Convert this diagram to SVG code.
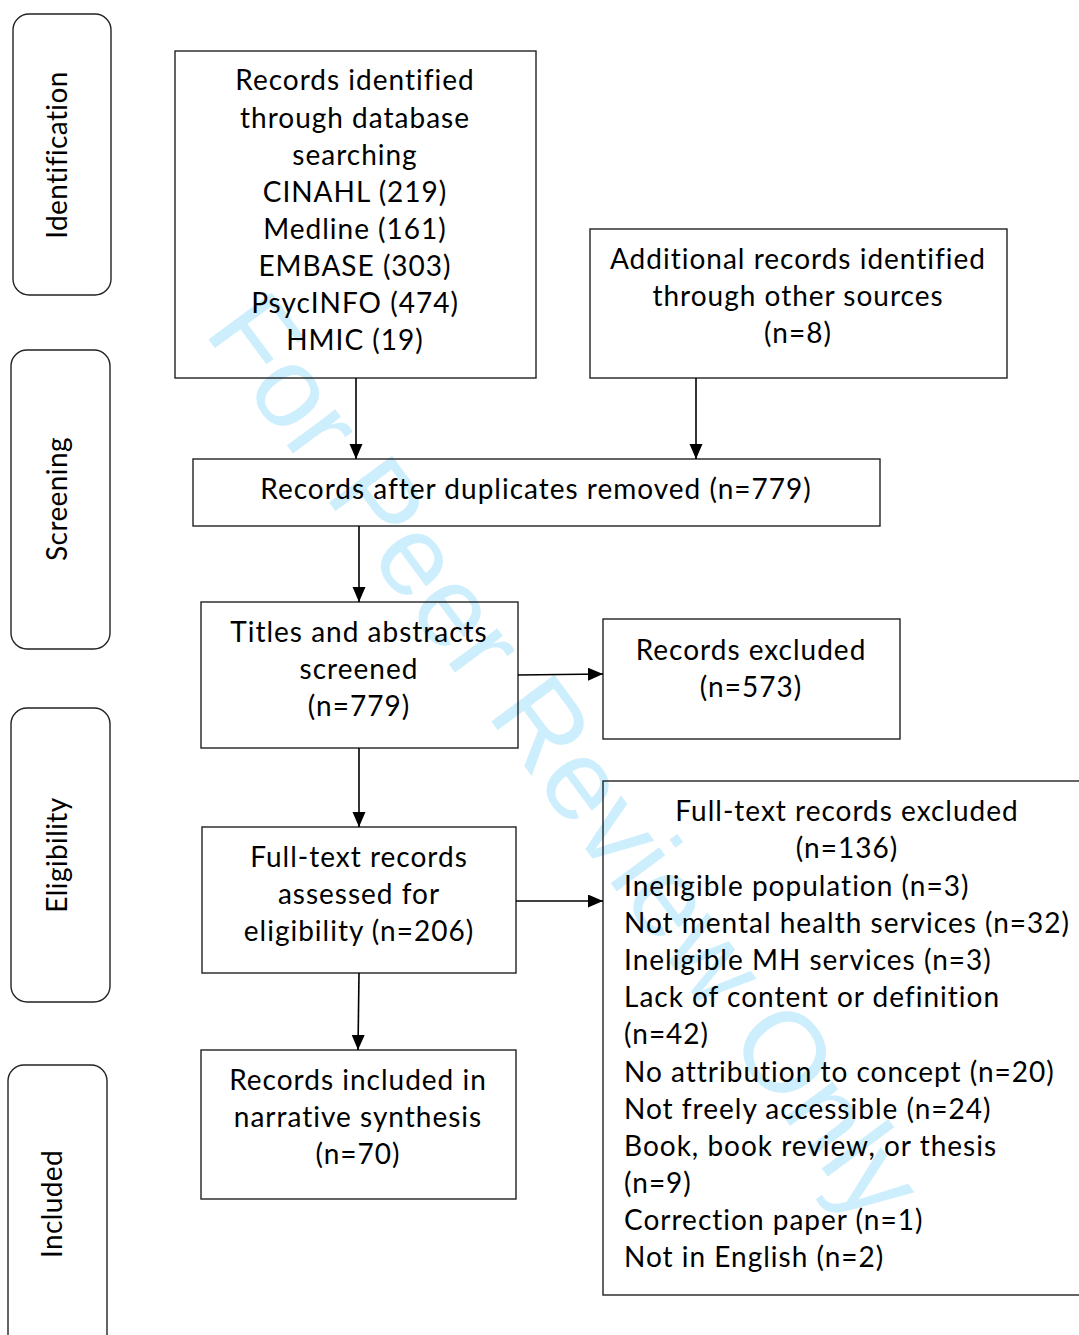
<svg xmlns="http://www.w3.org/2000/svg" width="1079" height="1335" viewBox="0 0 1079 1335">
  <style>
    .box { fill: none; stroke: #222; stroke-width: 1.4; }
    .stage { fill: none; stroke: #222; stroke-width: 1.4; }
    .t { font-family: Lato, "Open Sans", "Liberation Sans", sans-serif; font-size: 28px; letter-spacing: 1px; fill: #000; }
    .c { text-anchor: middle; }
    .stg { font-family: Lato, "Open Sans", "Liberation Sans", sans-serif; font-size: 28px; letter-spacing: 0.4px; fill: #000; text-anchor: middle; }
    .wm { font-family: "Liberation Sans", Arial, sans-serif; font-size: 114px; fill: #cdeefc; }
    .conn { stroke: #000; stroke-width: 1.6; fill: none; }
  </style>
  <defs>
    <marker id="arrow" markerUnits="userSpaceOnUse" markerWidth="16" markerHeight="14" refX="15" refY="6.5" orient="auto">
      <path d="M0,0 L15,6.5 L0,13 Z" fill="#000"/>
    </marker>
  </defs>
  <rect width="1079" height="1335" fill="#fff"/>

  <text class="wm" transform="translate(203,332) rotate(53.5)">For Peer Review Only</text>

  <g id="stage-identification">
    <rect class="stage" x="13" y="14" width="98" height="281" rx="16"/>
    <text class="stg" transform="translate(67,155) rotate(-90)">Identification</text>
  </g>
  <g id="stage-screening">
    <rect class="stage" x="11" y="350" width="99" height="299" rx="16"/>
    <text class="stg" transform="translate(67,499) rotate(-90)">Screening</text>
  </g>
  <g id="stage-eligibility">
    <rect class="stage" x="11" y="708" width="99" height="294" rx="16"/>
    <text class="stg" transform="translate(67,855) rotate(-90)">Eligibility</text>
  </g>
  <g id="stage-included">
    <rect class="stage" x="8" y="1065" width="99" height="300" rx="16"/>
    <text class="stg" transform="translate(62,1204) rotate(-90)">Included</text>
  </g>

  <g id="node-database">
    <rect class="box" x="175" y="51" width="361" height="327"/>
    <text class="t c" x="355" y="90">Records identified</text>
    <text class="t c" x="355" y="128">through database</text>
    <text class="t c" x="355" y="165">searching</text>
    <text class="t c" x="355" y="202">CINAHL (219)</text>
    <text class="t c" x="355" y="239">Medline (161)</text>
    <text class="t c" x="355" y="276">EMBASE (303)</text>
    <text class="t c" x="355" y="313">PsycINFO (474)</text>
    <text class="t c" x="355" y="350">HMIC (19)</text>
  </g>

  <g id="node-other">
    <rect class="box" x="590" y="229" width="417" height="149"/>
    <text class="t c" x="798" y="269">Additional records identified</text>
    <text class="t c" x="798" y="306">through other sources</text>
    <text class="t c" x="798" y="343">(n=8)</text>
  </g>

  <g id="node-duplicates">
    <rect class="box" x="193" y="459" width="687" height="67"/>
    <text class="t c" x="536" y="499">Records after duplicates removed (n=779)</text>
  </g>

  <g id="node-screened">
    <rect class="box" x="201" y="602" width="317" height="146"/>
    <text class="t c" x="359" y="642">Titles and abstracts</text>
    <text class="t c" x="359" y="679">screened</text>
    <text class="t c" x="359" y="716">(n=779)</text>
  </g>

  <g id="node-excluded">
    <rect class="box" x="603" y="619" width="297" height="120"/>
    <text class="t c" x="751" y="660">Records excluded</text>
    <text class="t c" x="751" y="697">(n=573)</text>
  </g>

  <g id="node-fulltext">
    <rect class="box" x="202" y="827" width="314" height="146"/>
    <text class="t c" x="359" y="867">Full-text records</text>
    <text class="t c" x="359" y="904">assessed for</text>
    <text class="t c" x="359" y="941">eligibility (n=206)</text>
  </g>

  <g id="node-fulltext-excluded">
    <rect class="box" x="603" y="781" width="490" height="514"/>
    <text class="t c" x="847" y="821">Full-text records excluded</text>
    <text class="t c" x="847" y="858">(n=136)</text>
    <text class="t" x="624" y="896">Ineligible population (n=3)</text>
    <text class="t" x="624" y="933">Not mental health services (n=32)</text>
    <text class="t" x="624" y="970">Ineligible MH services (n=3)</text>
    <text class="t" x="624" y="1007">Lack of content or definition</text>
    <text class="t" x="624" y="1044">(n=42)</text>
    <text class="t" x="624" y="1082">No attribution to concept (n=20)</text>
    <text class="t" x="624" y="1119">Not freely accessible (n=24)</text>
    <text class="t" x="624" y="1156">Book, book review, or thesis</text>
    <text class="t" x="624" y="1193">(n=9)</text>
    <text class="t" x="624" y="1230">Correction paper (n=1)</text>
    <text class="t" x="624" y="1267">Not in English (n=2)</text>
  </g>

  <g id="node-included">
    <rect class="box" x="201" y="1050" width="315" height="149"/>
    <text class="t c" x="358" y="1090">Records included in</text>
    <text class="t c" x="358" y="1127">narrative synthesis</text>
    <text class="t c" x="358" y="1164">(n=70)</text>
  </g>

  <g id="connectors">
    <line class="conn" x1="356" y1="378" x2="356" y2="459" marker-end="url(#arrow)"/>
    <line class="conn" x1="696" y1="378" x2="696" y2="459" marker-end="url(#arrow)"/>
    <line class="conn" x1="359" y1="526" x2="359" y2="602" marker-end="url(#arrow)"/>
    <line class="conn" x1="518" y1="675" x2="603" y2="674" marker-end="url(#arrow)"/>
    <line class="conn" x1="359" y1="748" x2="359" y2="827" marker-end="url(#arrow)"/>
    <line class="conn" x1="516" y1="901" x2="603" y2="901" marker-end="url(#arrow)"/>
    <line class="conn" x1="359" y1="973" x2="358" y2="1050" marker-end="url(#arrow)"/>
  </g>
</svg>
